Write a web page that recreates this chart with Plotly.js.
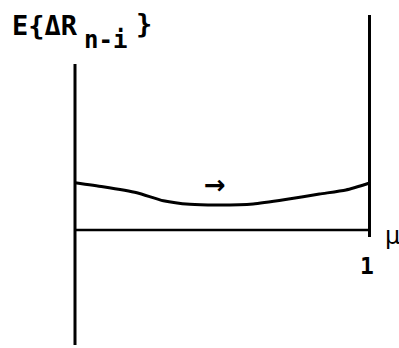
<!DOCTYPE html>
<html>
<head>
<meta charset="utf-8">
<script src="https://cdn.plot.ly/plotly-3.0.1.min.js"></script>
<style>html,body{margin:0;padding:0;background:#fff;}#chart{width:399px;height:348px;}</style>
</head>
<body>
<div id="chart"></div>
<script>
// Curve E{ΔR_{n-i}} versus μ (μ from 0 to 1)
var mu = [0, 0.095, 0.21, 0.30, 0.39, 0.49, 0.605, 0.72, 0.83, 0.92, 1.0];
var expectedDeltaR = [0.473, 0.433, 0.373, 0.293, 0.257, 0.25, 0.26, 0.307, 0.36, 0.40, 0.47];

// Frame lines (axes of the sketch)
var leftAxisX = [0, 0];
var leftAxisY = [-1.15, 1.66];
var rightAxisX = [1, 1];
var rightAxisY = [-0.07, 2.15];
var muAxisX = [0, 1];
var muAxisY = [0, 0];

// Labels
var tickLabel = "1";
var xLabel = "μ";
var yLabelMain = "E{ΔR";
var yLabelSub = "n-i";
var yLabelClose = "}";
var arrowLabel = "→";

var W = 399, H = 348;
function px(x){ return x / W; }
function py(y){ return 1 - y / H; }

var lineStyle = {color: '#000', width: 3};
var traces = [
  {x: leftAxisX, y: leftAxisY, mode: 'lines', line: lineStyle, hoverinfo: 'skip'},
  {x: rightAxisX, y: rightAxisY, mode: 'lines', line: lineStyle, hoverinfo: 'skip'},
  {x: muAxisX, y: muAxisY, mode: 'lines', line: {color: '#000', width: 2.5}, hoverinfo: 'skip'},
  {x: mu, y: expectedDeltaR, mode: 'lines', line: {color: '#000', width: 3, shape: 'spline', smoothing: 0.6}, hoverinfo: 'skip'}
];

var mono = "DejaVu Sans Mono";
var layout = {
  width: W, height: H,
  margin: {l: 0, r: 0, t: 0, b: 0},
  paper_bgcolor: '#fff', plot_bgcolor: '#fff',
  showlegend: false,
  xaxis: {range: [-75/294.5, (399-75)/294.5], visible: false, fixedrange: true},
  yaxis: {range: [-1.18, 2.30], visible: false, fixedrange: true},
  annotations: [
    {xref: 'paper', yref: 'paper', x: px(10), y: py(25), xanchor: 'left', yanchor: 'middle', text: '<b>' + yLabelMain + '</b>', showarrow: false, font: {family: mono, size: 27, color: '#000'}},
    {xref: 'paper', yref: 'paper', x: px(82), y: py(40), xanchor: 'left', yanchor: 'middle', text: '<b>' + yLabelSub + '</b>', showarrow: false, font: {family: mono, size: 24, color: '#000'}},
    {xref: 'paper', yref: 'paper', x: px(134), y: py(23), xanchor: 'left', yanchor: 'middle', text: '<b>' + yLabelClose + '</b>', showarrow: false, font: {family: mono, size: 27, color: '#000'}},
    {xref: 'paper', yref: 'paper', x: px(367), y: py(266), xanchor: 'center', yanchor: 'middle', text: '<b>' + tickLabel + '</b>', showarrow: false, font: {family: mono, size: 23, color: '#000'}},
    {xref: 'paper', yref: 'paper', x: px(383), y: py(236), xanchor: 'left', yanchor: 'middle', text: xLabel, showarrow: false, font: {family: "DejaVu Sans", size: 24, color: '#000'}},
    {xref: 'paper', yref: 'paper', x: px(215), y: py(185), xanchor: 'center', yanchor: 'middle', text: '<b>' + arrowLabel + '</b>', showarrow: false, font: {family: "DejaVu Sans", size: 26, color: '#000'}}
  ]
};

Plotly.newPlot('chart', traces, layout, {displayModeBar: false, staticPlot: true});
</script>
</body>
</html>
